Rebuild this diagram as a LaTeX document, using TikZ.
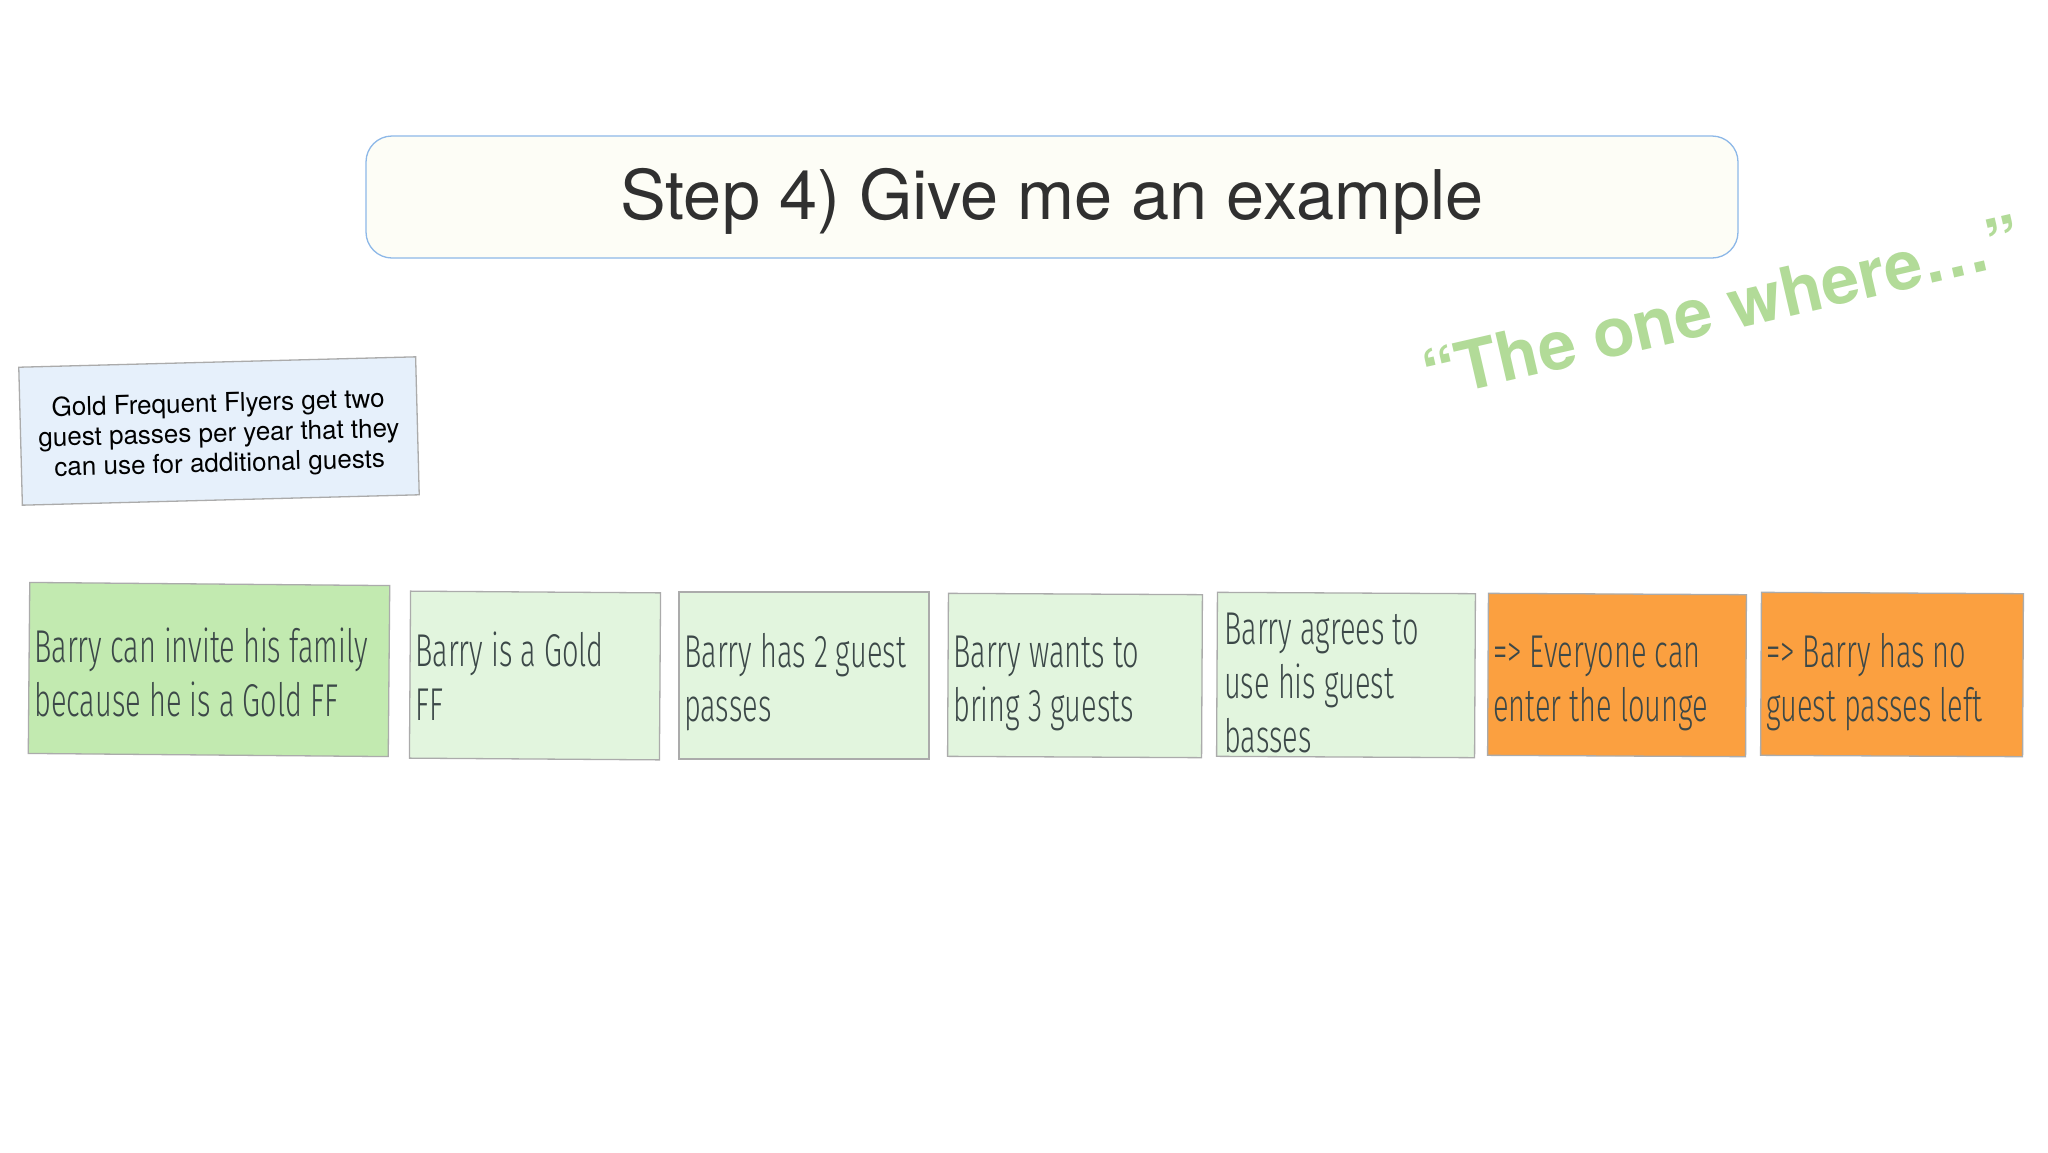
\documentclass[tikz,border=0pt]{standalone}
\usepackage{fontspec}
\setmainfont{TeX Gyre Heros}
\newfontfamily\handfont[FakeStretch=0.63]{Fira Sans Light}
\definecolor{titlefill}{HTML}{FDFDF6}
\definecolor{titleline}{HTML}{8DB8E8}
\definecolor{titletext}{HTML}{303030}
\definecolor{bluefill}{HTML}{E6F0FB}
\definecolor{noteline}{HTML}{ABABAB}
\definecolor{darkgreen}{HTML}{C2EAB0}
\definecolor{lightgreen}{HTML}{E2F5DE}
\definecolor{orangefill}{HTML}{FBA040}
\definecolor{quotegreen}{HTML}{B2DB98}
\definecolor{handtext}{HTML}{3C4848}
\tikzset{
  stickynote/.style={draw=noteline, line width=1.3pt, inner sep=0pt},
  notetext/.style={anchor=base west, inner sep=0pt, align=left, text=handtext,
    font=\handfont\fontsize{46}{54}\selectfont},
}
\begin{document}
\begin{tikzpicture}[x=1pt,y=1pt]
\path[use as bounding box, fill=white] (0,0) rectangle (2048,-1152);
% title
\node[draw=titleline, fill=titlefill, line width=1.3pt, rounded corners=26pt,
  minimum width=1372pt, minimum height=122pt, inner sep=0pt] (title) at (1052,-197) {};
\node[text=titletext, inner sep=0pt, anchor=base,
  font=\fontsize{68.5}{80}\selectfont] (titletxt) at (1052,-219) {Step 4) Give me an example};
% blue note
\node[draw=noteline, fill=bluefill, line width=1.3pt, minimum width=397pt, minimum height=138pt,
  inner sep=0pt, rotate=1.5, align=center, text=black,
  font=\fontsize{26}{30}\selectfont] (rule) at (219,-431) {};
\node[rotate=1.5, align=center, text=black, inner sep=0pt,
  font=\fontsize{26}{30}\selectfont] (ruletxt) at (219,-435) {Gold Frequent Flyers get two\\guest passes per year that they\\can use for additional guests};
% quote
\node[rotate=13, text=quotegreen, inner sep=0pt,
  font=\fontsize{68}{80}\selectfont\bfseries] (quote) at (1722,-307) {``The one where\ldots''};
% sticky notes
\node[stickynote, fill=darkgreen, minimum width=360pt, minimum height=171pt, rotate=-0.5] (n1) at (209,-669.5) {};
\node[stickynote, fill=lightgreen, minimum width=250pt, minimum height=167pt, rotate=-0.4] (n2) at (535,-675.5) {};
\node[stickynote, fill=lightgreen, minimum width=250pt, minimum height=167pt] (n3) at (804,-675.5) {};
\node[stickynote, fill=lightgreen, minimum width=254pt, minimum height=163pt, rotate=-0.3] (n4) at (1075,-675.5) {};
\node[stickynote, fill=lightgreen, minimum width=258pt, minimum height=164pt, rotate=-0.3] (n5) at (1346,-675) {};
\node[stickynote, fill=orangefill, minimum width=258pt, minimum height=162pt, rotate=-0.3] (n6) at (1617,-675) {};
\node[stickynote, fill=orangefill, minimum width=262pt, minimum height=163pt, rotate=-0.3] (n7) at (1892,-674.5) {};
% texts (anchor = baseline of the last line)
\node[notetext] (t1) at (34,-716) {Barry can invite his family\\because he is a Gold FF};
\node[notetext] (t2) at (415,-720) {Barry is a Gold\\FF};
\node[notetext] (t3) at (684,-721) {Barry has 2 guest\\passes};
\node[notetext] (t4) at (953,-721) {Barry wants to\\bring 3 guests};
\node[notetext] (t5) at (1224,-752) {Barry agrees to\\use his guest\\basses};
\node[notetext] (t6) at (1493,-721) {=> Everyone can\\enter the lounge};
\node[notetext] (t7) at (1766,-721) {=> Barry has no\\guest passes left};
\end{tikzpicture}
\end{document}
